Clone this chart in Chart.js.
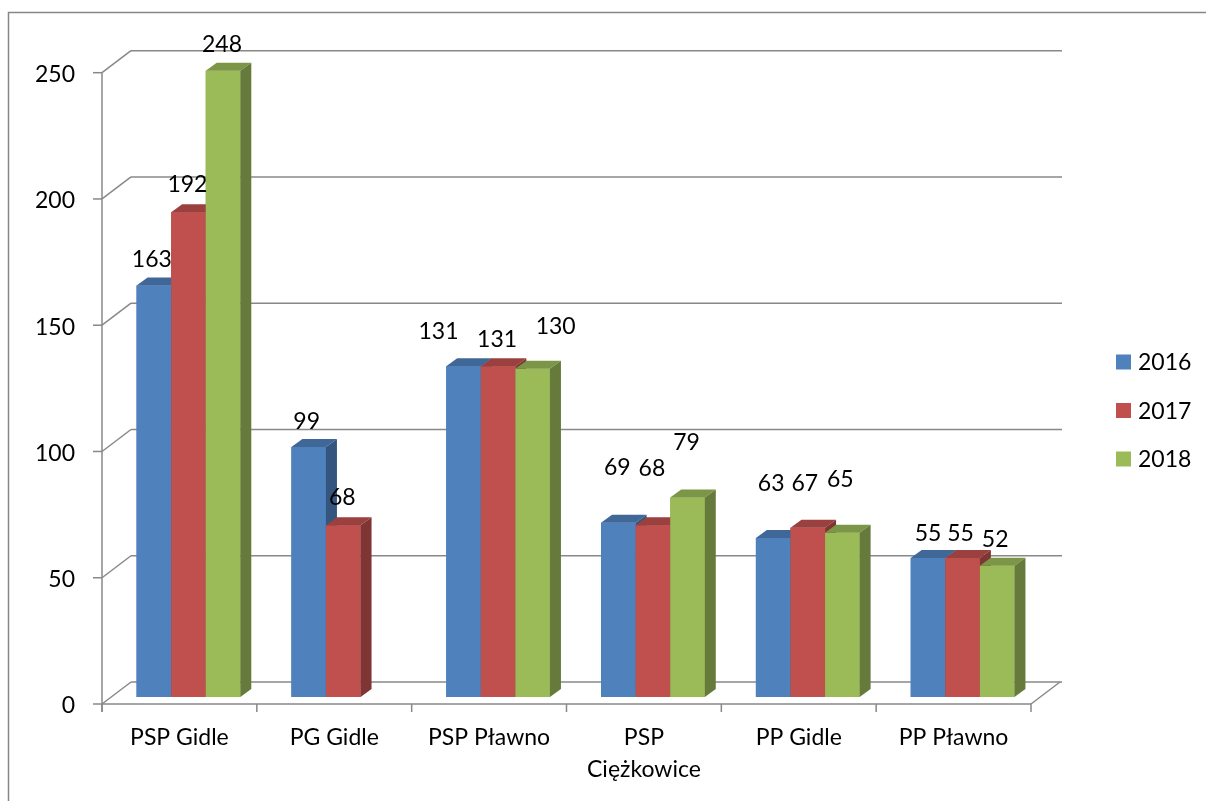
<!DOCTYPE html>
<html>
<head>
<meta charset="utf-8">
<script src="https://cdn.jsdelivr.net/npm/chart.js@4/dist/chart.umd.min.js"></script>
<style>
html,body{margin:0;padding:0;background:#fff;}
canvas{display:block;}
</style>
</head>
<body>
<canvas id="c" width="1206" height="801"></canvas>
<script>
// ---- data ----
const categories = ['PSP Gidle', 'PG Gidle', 'PSP Pławno', ['PSP', 'Ciężkowice'], 'PP Gidle', 'PP Pławno'];
const seriesNames = ['2016', '2017', '2018'];
const values2016 = [163, 99, 131, 69, 63, 55];
const values2017 = [192, 68, 131, 68, 67, 55];
const values2018 = [248, null, 130, 79, 65, 52];
const yTicks = [0, 50, 100, 150, 200, 250];

// ---- style ----
const colors = ['#4F81BD', '#C0504D', '#9BBB59'];
const FONT = '23px Lato';
const GRID = '#888888';
const depth = { dx: 11, dy: -8 };      // bar depth
const wallOff = { dx: 20, dy: -15 };   // back wall relative to bar plane
const frontOff = { dx: -9, dy: 7 };    // front axis relative to bar plane
// label nudges (label centre relative to bar top centre)
const labelNudgeX = [[-2, -2, -25, -1, -2, 0], [-1, -1, -1, -1, -3, -2], [-1, 0, 23, -1, -2, -2]];
const labelNudgeY = [[-26, -25, -35, -55, -54, -25], [-28, -28, -27, -57, -44, -25], [-26, 0, -42, -55, -53, -26]];

function shade(hex, f) {
  const n = parseInt(hex.slice(1), 16);
  const r = Math.round(((n >> 16) & 255) * f), g = Math.round(((n >> 8) & 255) * f), b = Math.round((n & 255) * f);
  return `rgb(${r},${g},${b})`;
}

function line(ctx, x1, y1, x2, y2) {
  ctx.beginPath(); ctx.moveTo(x1, y1); ctx.lineTo(x2, y2); ctx.stroke();
}

const plot3d = {
  id: 'plot3d',
  beforeDatasetsDraw(chart) {
    const ctx = chart.ctx;
    const { left, right, bottom } = chart.chartArea;
    const ys = chart.scales.y;
    ctx.save();
    // outer border
    ctx.strokeStyle = '#868686';
    ctx.lineWidth = 1.5;
    ctx.strokeRect(8.5, 12.5, 1400, 1000);

    ctx.strokeStyle = GRID;
    ctx.lineWidth = 1.5;
    yTicks.forEach(v => {
      const py = ys.getPixelForValue(v);
      line(ctx, left + wallOff.dx, py + wallOff.dy, right + wallOff.dx + 2, py + wallOff.dy);
      line(ctx, left + frontOff.dx, py + frontOff.dy, left + wallOff.dx, py + wallOff.dy);
      line(ctx, left + frontOff.dx - 9, py + frontOff.dy, left + frontOff.dx, py + frontOff.dy);
    });
    const y0 = ys.getPixelForValue(0);
    const yTop = ys.getPixelForValue(yTicks[yTicks.length - 1]);
    line(ctx, left + frontOff.dx, y0 + frontOff.dy, right + frontOff.dx, y0 + frontOff.dy);
    line(ctx, right + frontOff.dx, y0 + frontOff.dy, right + wallOff.dx, y0 + wallOff.dy);
    line(ctx, left + frontOff.dx, yTop + frontOff.dy, left + frontOff.dx, y0 + frontOff.dy + 8);
    const n = categories.length;
    for (let k = 0; k <= n; k++) {
      const xk = left + frontOff.dx + k * (right - left) / n;
      line(ctx, xk, y0 + frontOff.dy, xk, y0 + frontOff.dy + 8);
    }
    ctx.fillStyle = '#000';
    ctx.font = FONT;
    ctx.textAlign = 'right';
    ctx.textBaseline = 'middle';
    yTicks.forEach(v => {
      const py = ys.getPixelForValue(v);
      ctx.fillText(String(v), left + frontOff.dx - 27, py + frontOff.dy + 2);
    });
    ctx.textAlign = 'center';
    const xs = chart.scales.x;
    categories.forEach((c, i) => {
      const px = xs.getPixelForValue(i) + frontOff.dx;
      const lines = Array.isArray(c) ? c : [c];
      lines.forEach((t, j) => ctx.fillText(t, px, y0 + 41 + j * 32));
    });
    ctx.restore();
  },
  afterDatasetsDraw(chart) {
    const ctx = chart.ctx;
    ctx.save();
    // redraw left-to-right so each bar's front covers its left neighbour's side face
    chart.data.datasets.forEach((ds, di) => {
      const meta = chart.getDatasetMeta(di);
      const base = ds.backgroundColor;
      meta.data.forEach((bar, i) => {
        if (ds.data[i] == null) return;
        bar.draw(ctx, chart.chartArea);
        const p = bar.getProps(['x', 'y', 'width', 'base'], true);
        const l = p.x - p.width / 2, r = p.x + p.width / 2, t = p.y, b = p.base;
        ctx.fillStyle = shade(base, 0.8);
        ctx.beginPath();
        ctx.moveTo(l, t); ctx.lineTo(r, t); ctx.lineTo(r + depth.dx, t + depth.dy); ctx.lineTo(l + depth.dx, t + depth.dy);
        ctx.closePath(); ctx.fill();
        ctx.fillStyle = shade(base, 0.66);
        ctx.beginPath();
        ctx.moveTo(r, t); ctx.lineTo(r + depth.dx, t + depth.dy); ctx.lineTo(r + depth.dx, b + depth.dy); ctx.lineTo(r, b);
        ctx.closePath(); ctx.fill();
      });
    });
    ctx.restore();
  },
  afterDraw(chart) {
    const ctx = chart.ctx;
    ctx.save();
    ctx.font = FONT;
    ctx.fillStyle = '#000';
    ctx.textAlign = 'center';
    ctx.textBaseline = 'middle';
    chart.data.datasets.forEach((ds, di) => {
      const meta = chart.getDatasetMeta(di);
      meta.data.forEach((bar, i) => {
        if (ds.data[i] == null) return;
        const p = bar.getProps(['x', 'y'], true);
        ctx.fillText(String(ds.data[i]), p.x + labelNudgeX[di][i], p.y + labelNudgeY[di][i]);
      });
    });
    ctx.textAlign = 'left';
    chart.data.datasets.forEach((ds, di) => {
      const cy = 362 + di * 48.5;
      ctx.fillStyle = ds.backgroundColor;
      ctx.fillRect(1116, cy - 7.5, 15, 15);
      ctx.fillStyle = '#000';
      ctx.fillText(ds.label, 1138, cy + 1);
    });
    ctx.restore();
  }
};

const seriesValues = [values2016, values2017, values2018];
new Chart(document.getElementById('c'), {
  type: 'bar',
  data: {
    labels: categories,
    datasets: seriesNames.map((name, i) => ({
      label: name,
      data: seriesValues[i],
      backgroundColor: colors[i],
      borderWidth: 0,
      categoryPercentage: 0.67,
      barPercentage: 1.0
    }))
  },
  options: {
    responsive: false,
    animation: false,
    devicePixelRatio: 1,
    layout: { padding: { left: 111, right: 166, top: 65.7, bottom: 104 } },
    plugins: { legend: { display: false }, tooltip: { enabled: false } },
    scales: {
      x: { display: false },
      y: { display: false, min: 0, max: 250, ticks: { stepSize: 50 } }
    }
  },
  plugins: [plot3d]
});
</script>
</body>
</html>
